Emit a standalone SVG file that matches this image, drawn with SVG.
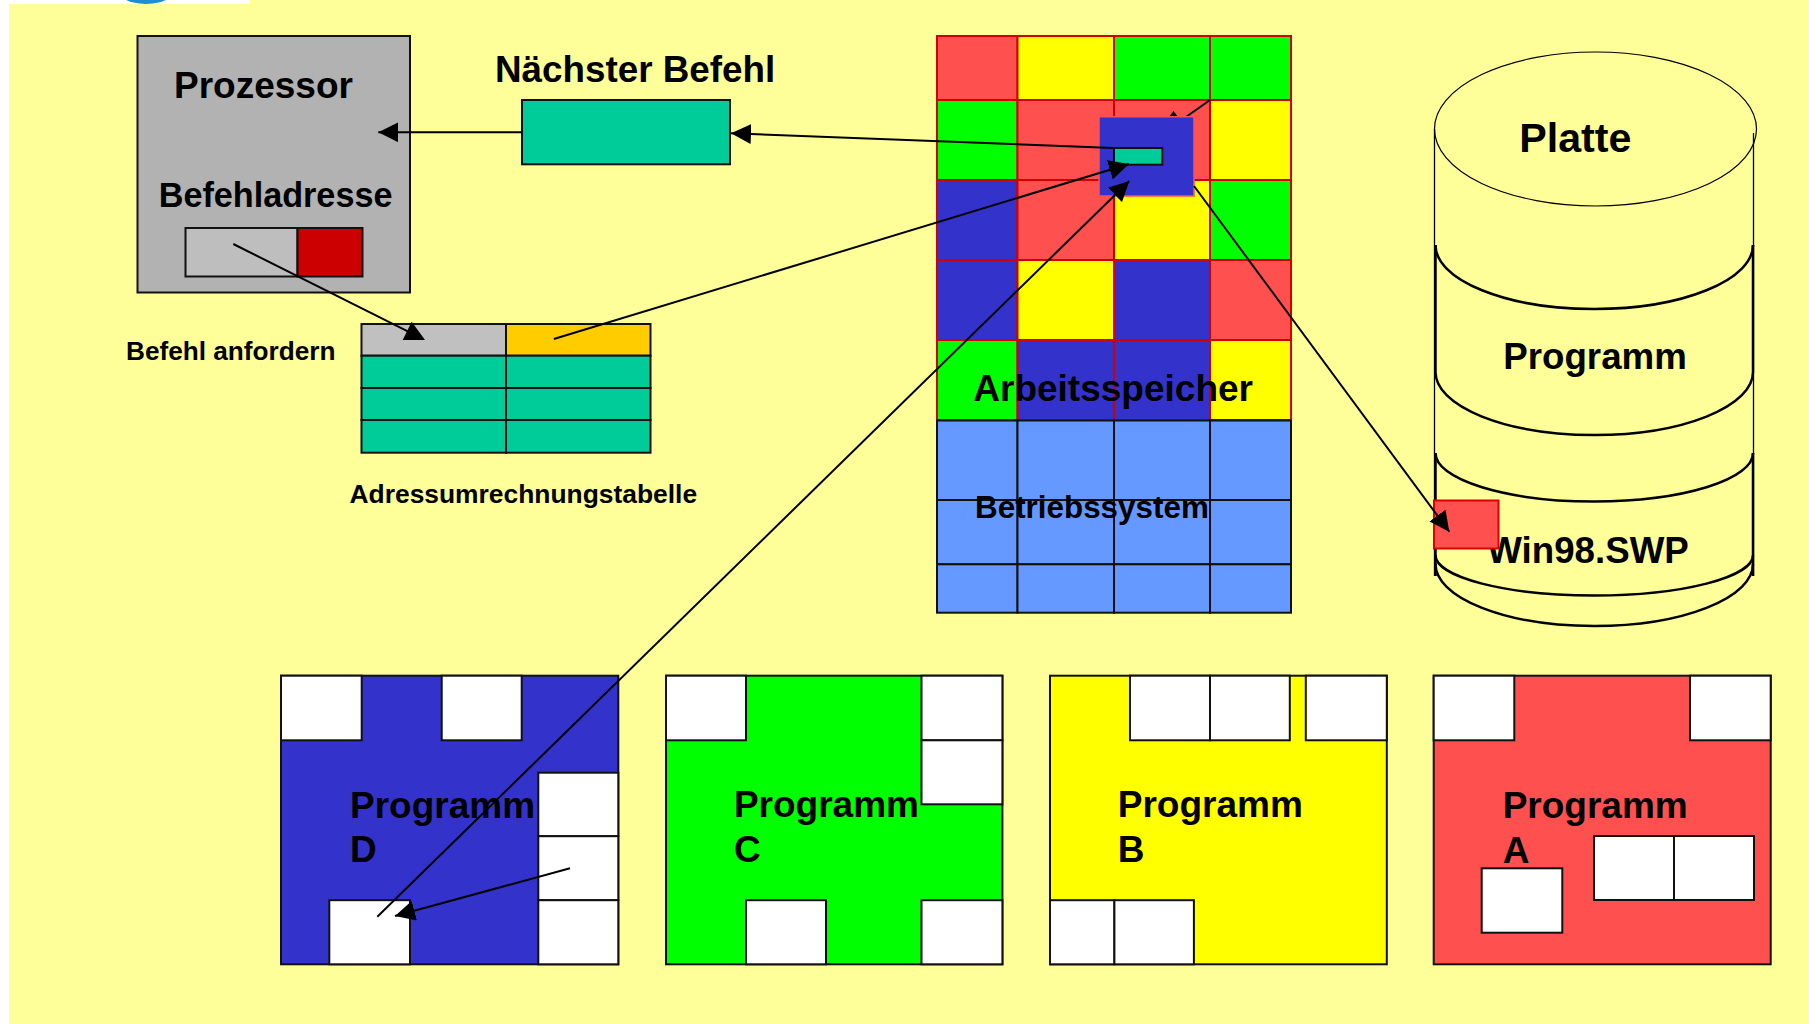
<svg xmlns="http://www.w3.org/2000/svg" width="1809" height="1024" viewBox="0 0 1809 1024">
  <defs>
    <style>
      text { font-family: "Liberation Sans", Arial, Helvetica, sans-serif; font-weight: bold; fill: #000; }
      .box { stroke: #111; stroke-width: 2; }
      .white { fill: #fff; stroke: #111; stroke-width: 2; }
      .cell { stroke: #D00000; stroke-width: 2; }
      .os { fill: #6699FF; stroke: #111; stroke-width: 2; }
      .red { fill: #FF5050; }
      .yel { fill: #FFFF00; }
      .grn { fill: #00FF00; }
      .blu { fill: #3333CC; }
      .teal { fill: #00CC99; }
      .disk { fill: none; stroke: #000; }
      .conn { fill: none; stroke: #000; stroke-width: 2; }
      .arrow { marker-end: url(#head); }
    </style>
    <marker id="head" markerUnits="userSpaceOnUse" markerWidth="20" markerHeight="20" refX="20" refY="10" orient="auto">
      <path d="M0,0 L20,10 L0,20 z" fill="#000"/>
    </marker>
  </defs>

  <!-- page background -->
  <g id="background">
    <rect x="0" y="0" width="1809" height="1024" fill="#fff"/>
    <rect x="9" y="0" width="1800" height="1024" fill="#FFFF99"/>
    <rect x="9" y="0" width="241" height="4" fill="#fff"/>
    <ellipse cx="146" cy="-20" rx="36" ry="24" fill="#1A8FD6"/>
  </g>

  <!-- processor with instruction address register -->
  <g id="prozessor">
    <rect class="box" x="137.5" y="36" width="272.5" height="256.5" fill="#B2B2B2"/>
    <text x="174" y="97.7" font-size="37">Prozessor</text>
    <text x="158.7" y="207.3" font-size="34.2">Befehladresse</text>
    <rect class="box" x="185.5" y="228" width="112" height="48.5" fill="#BEBEBE"/>
    <rect class="box" x="297.5" y="228" width="65" height="48.5" fill="#CC0000"/>
  </g>

  <!-- next instruction -->
  <g id="naechster-befehl">
    <text x="495" y="81.7" font-size="36.8">Nächster Befehl</text>
    <rect class="box teal" x="522" y="100" width="208" height="64.3"/>
  </g>

  <!-- address translation table -->
  <g id="adressumrechnungstabelle">
    <text x="126" y="360" font-size="26.2">Befehl anfordern</text>
    <rect class="box" x="361.5" y="324" width="144.5" height="31.7" fill="#C0C0C0"/>
    <rect class="box" x="506" y="324" width="144.5" height="31.7" fill="#FFCC00"/>
    <rect class="box teal" x="361.5" y="355.7" width="144.5" height="32.3"/>
    <rect class="box teal" x="506" y="355.7" width="144.5" height="32.3"/>
    <rect class="box teal" x="361.5" y="388" width="144.5" height="32"/>
    <rect class="box teal" x="506" y="388" width="144.5" height="32"/>
    <rect class="box teal" x="361.5" y="420" width="144.5" height="32.7"/>
    <rect class="box teal" x="506" y="420" width="144.5" height="32.7"/>
    <text x="349.5" y="503.3" font-size="26.4">Adressumrechnungstabelle</text>
  </g>

  <!-- main memory: page frames and operating system area -->
  <g id="arbeitsspeicher">
    <rect class="cell red" x="937" y="36" width="80.5" height="64"/>
    <rect class="cell yel" x="1017.5" y="36" width="96.5" height="64"/>
    <rect class="cell grn" x="1114" y="36" width="96" height="64"/>
    <rect class="cell grn" x="1210" y="36" width="81" height="64"/>

    <rect class="cell grn" x="937" y="100" width="80.5" height="80"/>
    <rect class="cell red" x="1017.5" y="100" width="96.5" height="80"/>
    <rect class="cell red" x="1114" y="100" width="96" height="80"/>
    <rect class="cell yel" x="1210" y="100" width="81" height="80"/>

    <rect class="cell blu" x="937" y="180" width="80.5" height="80"/>
    <rect class="cell red" x="1017.5" y="180" width="96.5" height="80"/>
    <rect class="cell yel" x="1114" y="180" width="96" height="80"/>
    <rect class="cell grn" x="1210" y="180" width="81" height="80"/>

    <rect class="cell blu" x="937" y="260" width="80.5" height="80"/>
    <rect class="cell yel" x="1017.5" y="260" width="96.5" height="80"/>
    <rect class="cell blu" x="1114" y="260" width="96" height="80"/>
    <rect class="cell red" x="1210" y="260" width="81" height="80"/>

    <rect class="cell grn" x="937" y="340" width="80.5" height="80"/>
    <rect class="cell blu" x="1017.5" y="340" width="96.5" height="80"/>
    <rect class="cell blu" x="1114" y="340" width="96" height="80"/>
    <rect class="cell yel" x="1210" y="340" width="81" height="80"/>

    <rect class="os" x="937" y="420.5" width="80.5" height="79.5"/>
    <rect class="os" x="1017.5" y="420.5" width="96.5" height="79.5"/>
    <rect class="os" x="1114" y="420.5" width="96" height="79.5"/>
    <rect class="os" x="1210" y="420.5" width="81" height="79.5"/>
    <rect class="os" x="937" y="500" width="80.5" height="64.3"/>
    <rect class="os" x="1017.5" y="500" width="96.5" height="64.3"/>
    <rect class="os" x="1114" y="500" width="96" height="64.3"/>
    <rect class="os" x="1210" y="500" width="81" height="64.3"/>
    <rect class="os" x="937" y="564.3" width="80.5" height="48.4"/>
    <rect class="os" x="1017.5" y="564.3" width="96.5" height="48.4"/>
    <rect class="os" x="1114" y="564.3" width="96" height="48.4"/>
    <rect class="os" x="1210" y="564.3" width="81" height="48.4"/>

    <!-- short pointer into the loaded page -->
    <line class="conn" x1="1210" y1="100" x2="1186" y2="117"/>
    <polygon points="1169,117 1173.5,111 1178,117" fill="#000"/>

    <!-- loaded page with the current instruction -->
    <rect x="1099" y="116.7" width="95" height="79.3" class="blu" stroke="#FF5050" stroke-width="1.5"/>
    <rect class="box teal" x="1114" y="148" width="48.3" height="16.7"/>

    <text x="973.3" y="401" font-size="37">Arbeitsspeicher</text>
    <text x="975" y="518.3" font-size="31.4">Betriebssystem</text>
  </g>

  <!-- hard disk with program and swap file -->
  <g id="platte">
    <ellipse class="disk" cx="1595.5" cy="129" rx="161" ry="77" stroke-width="1.2"/>
    <line class="disk" x1="1434.5" y1="129" x2="1434.5" y2="576" stroke-width="1.3"/>
    <line class="disk" x1="1753.5" y1="133" x2="1753.5" y2="576" stroke-width="1.3"/>
    <line class="disk" x1="1435.5" y1="245" x2="1435.5" y2="372" stroke-width="2.5"/>
    <line class="disk" x1="1753" y1="245" x2="1753" y2="372" stroke-width="2.5"/>
    <line class="disk" x1="1435.5" y1="453" x2="1435.5" y2="576" stroke-width="2.5"/>
    <line class="disk" x1="1753" y1="453" x2="1753" y2="576" stroke-width="2.5"/>
    <path class="disk" stroke-width="2.5" d="M1435.5,245 A158.75,64 0 0 0 1753,245"/>
    <path class="disk" stroke-width="2.5" d="M1435.5,372 A158.75,63 0 0 0 1753,372"/>
    <path class="disk" stroke-width="2.5" d="M1435.5,453 A158.75,48.5 0 0 0 1753,453"/>
    <path class="disk" stroke-width="2.5" d="M1435.5,555 A158.75,40.5 0 0 0 1753,555"/>
    <path class="disk" stroke-width="2.5" d="M1435.5,564 A158.75,62 0 0 0 1753,564"/>
    <text x="1519.3" y="151.7" font-size="41.2">Platte</text>
    <text x="1503.3" y="369.3" font-size="36.7">Programm</text>
    <text x="1487.3" y="562.5" font-size="36.7">Win98.SWP</text>
    <rect x="1434" y="500.5" width="64.5" height="48" fill="#FF5050" stroke="#DD0000" stroke-width="2"/>
  </g>

  <!-- programs split into pages -->
  <g id="programm-d">
    <rect class="box blu" x="281" y="675.7" width="337.3" height="288.6"/>
    <rect class="white" x="281" y="675.7" width="80.7" height="64.6"/>
    <rect class="white" x="441.7" y="675.7" width="80" height="64.6"/>
    <rect class="white" x="538.3" y="772.7" width="80" height="63.5"/>
    <rect class="white" x="538.3" y="836.2" width="80" height="64"/>
    <rect class="white" x="538.3" y="900.2" width="80" height="64.1"/>
    <rect class="white" x="329.3" y="900.2" width="80.7" height="64.1"/>
    <text x="350" y="818.3" font-size="37">Programm</text>
    <text x="350" y="862.3" font-size="37">D</text>
  </g>

  <g id="programm-c">
    <rect class="box grn" x="666" y="675.7" width="336.4" height="288.6"/>
    <rect class="white" x="666" y="675.7" width="80" height="64.6"/>
    <rect class="white" x="921.5" y="675.7" width="80.9" height="64.6"/>
    <rect class="white" x="921.5" y="740.3" width="80.9" height="64"/>
    <rect class="white" x="746" y="900.2" width="80" height="64.1"/>
    <rect class="white" x="921.5" y="900.2" width="80.9" height="64.1"/>
    <text x="733.9" y="817.3" font-size="37">Programm</text>
    <text x="733.9" y="861.7" font-size="37">C</text>
  </g>

  <g id="programm-b">
    <rect class="box yel" x="1050" y="675.7" width="336.8" height="288.6"/>
    <rect class="white" x="1130" y="675.7" width="80" height="64.6"/>
    <rect class="white" x="1210" y="675.7" width="79.8" height="64.6"/>
    <rect class="white" x="1305.8" y="675.7" width="81" height="64.6"/>
    <rect class="white" x="1050" y="900.2" width="64.4" height="64.1"/>
    <rect class="white" x="1114.4" y="900.2" width="79.5" height="64.1"/>
    <text x="1117.8" y="817.3" font-size="37">Programm</text>
    <text x="1117.8" y="861.7" font-size="37">B</text>
  </g>

  <g id="programm-a">
    <rect class="box red" x="1433.7" y="675.7" width="337" height="288.6"/>
    <rect class="white" x="1433.7" y="675.7" width="80.6" height="64.6"/>
    <rect class="white" x="1690" y="675.7" width="80.7" height="64.6"/>
    <text x="1502.7" y="817.7" font-size="37">Programm</text>
    <text x="1502.7" y="863.3" font-size="37">A</text>
    <rect class="white" x="1594" y="836" width="80" height="64"/>
    <rect class="white" x="1674" y="836" width="80" height="64"/>
    <rect class="white" x="1481.7" y="868.3" width="80.6" height="64.4"/>
  </g>

  <!-- connectors -->
  <g id="connectors">
    <line class="conn arrow" x1="522" y1="132.3" x2="378.3" y2="132.3"/>
    <line class="conn arrow" x1="1113" y1="148" x2="731" y2="133.3"/>
    <line class="conn" x1="233.3" y1="244" x2="408.3" y2="331.7"/>
    <polygon points="411.7,321.7 402.7,340 425,340" fill="#000"/>
    <line class="conn arrow" x1="553.8" y1="339" x2="1129" y2="164"/>
    <line class="conn arrow" x1="377.3" y1="916.7" x2="1129.3" y2="181"/>
    <line class="conn arrow" x1="570" y1="868.3" x2="395" y2="916"/>
    <line class="conn arrow" x1="1194" y1="186" x2="1449.3" y2="531.7"/>
  </g>
</svg>
